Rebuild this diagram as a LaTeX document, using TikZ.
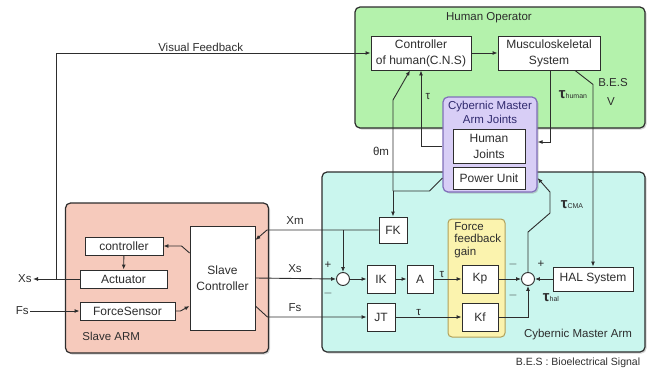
\documentclass[tikz,border=0pt]{standalone}
\usepackage{fontspec}
\setmainfont{Liberation Sans}
\usetikzlibrary{arrows.meta, positioning, shadows, calc}

\definecolor{opgreen}{RGB}{180,242,172}
\definecolor{armcyan}{RGB}{202,246,238}
\definecolor{slavepink}{RGB}{246,202,188}
\definecolor{jointlilac}{RGB}{216,206,246}
\definecolor{jointedge}{RGB}{128,110,186}
\definecolor{gainyellow}{RGB}{251,243,174}
\definecolor{gainedge}{RGB}{176,160,90}
\definecolor{ink}{RGB}{45,45,45}
\definecolor{navy}{RGB}{48,42,110}

\newcommand\boxfont{\fontsize{12}{16}\selectfont}
\newcommand\lblfont{\fontsize{11.5}{13}\selectfont}
\newcommand\bigtau{{\fontsize{15}{15}\selectfont\bfseries τ}}
\newcommand\tausub[1]{{\fontsize{7}{7}\selectfont #1}}

\begin{document}
\begin{tikzpicture}[
  x=1pt, y=-1pt, color=ink,
  >={Latex[length=5pt,width=4pt]}, line width=0.9pt,
  blk/.style  = {draw, fill=white, inner sep=1pt, align=center, font=\boxfont},
  grp/.style  = {draw=ink, rounded corners=5pt, line width=1.2pt,
                 drop shadow={shadow xshift=1.5pt, shadow yshift=-1.5pt, opacity=0.35}},
  sum/.style  = {draw, circle, fill=white, inner sep=0pt, minimum size=13pt},
  lbl/.style  = {font=\lblfont, inner sep=1pt},
  sgn/.style  = {font=\lblfont, inner sep=0pt},
]
  \useasboundingbox (0,0) rectangle (657,378);

  % groups
  \node[grp, fill=opgreen,   minimum width=290pt, minimum height=121pt] (hop)  at (500,67.5) {};
  \node[grp, fill=armcyan,   minimum width=323pt, minimum height=180pt] (cma)  at (483.5,262) {};
  \node[grp, fill=slavepink, minimum width=203pt, minimum height=150pt] (sarm) at (167,278) {};
  \node[grp, draw=jointedge, fill=jointlilac, minimum width=94pt, minimum height=95pt] (cmaj) at (490,144.5) {};
  \node[draw=gainedge, fill=gainyellow, rounded corners=4pt, line width=1pt,
        minimum width=57pt, minimum height=118pt] (ffg) at (476.5,278) {};

  \node[lbl] at (489,18)  {Human Operator};
  \node[lbl, text=navy, align=center, font=\fontsize{11.5}{14}\selectfont] at (490,112) {Cybernic Master\\Arm Joints};
  \node[lbl, anchor=north west, align=left, font=\fontsize{11.5}{12.5}\selectfont] at (453,221) {Force\\feedback\\gain};
  \node[lbl] at (578,335) {Cybernic Master Arm};
  \node[lbl, anchor=west] at (81,336) {Slave ARM};

  % human operator
  \node[blk, minimum width=100pt, minimum height=34pt] (cns) at (421,53) {Controller\\of human(C.N.S)};
  \node[blk, minimum width=102pt, minimum height=34pt] (msk) at (549,53) {Musculoskeletal\\System};

  % joints
  \node[blk, minimum width=72pt, minimum height=34pt] (hj) at (489,146) {Human\\Joints};
  \node[blk, minimum width=72pt, minimum height=22pt] (pu) at (489,178) {Power Unit};

  % slave arm
  \node[blk, minimum width=78pt, minimum height=18pt]  (ctl) at (124,246)   {controller};
  \node[blk, minimum width=87pt, minimum height=18pt]  (act) at (123.5,279) {Actuator};
  \node[blk, minimum width=95pt, minimum height=18pt]  (fsn) at (127.5,311) {ForceSensor};
  \node[blk, minimum width=65pt, minimum height=104pt] (sc)  at (222.5,278) {Slave\\Controller};

  % master arm
  \node[blk, minimum width=28pt, minimum height=26pt] (fk)  at (393,230) {FK};
  \node[sum] (s1) at (343,279) {};
  \node[blk, minimum width=28pt, minimum height=28pt] (ik)  at (381,279) {IK};
  \node[blk, minimum width=26pt, minimum height=28pt] (amp) at (420,279) {A};
  \node[blk, minimum width=36pt, minimum height=28pt] (kp)  at (480,279) {Kp};
  \node[blk, minimum width=28pt, minimum height=28pt] (jt)  at (381,317) {JT};
  \node[blk, minimum width=36pt, minimum height=28pt] (kf)  at (480,317) {Kf};
  \node[sum] (s2) at (528,279) {};
  \node[blk, minimum width=80pt, minimum height=24pt] (hal) at (593,279) {HAL System};

  \node[sgn] at (328,265) {+};
  \node[sgn] at (328,293) {$-$};
  \node[sgn] at (513,264) {$-$};
  \node[sgn] at (513,295) {$-$};
  \node[sgn] at (541,264) {+};

  % visual feedback and slave side
  \coordinate (vfx)   at (56,279);
  \coordinate (xsout) at (33,279);
  \coordinate (fsin)  at (30,311);
  \draw[->] (vfx) |- node[lbl, above, pos=0.73]{Visual Feedback} (cns.west);
  \draw[->] (act.west) -- (xsout);
  \node[lbl, left] at (xsout) {Xs};
  \draw[->] (fsin) -- (fsn.west);
  \node[lbl, left] at (fsin) {Fs};
  \draw[->] (ctl) -- (act);
  \draw[->] ([yshift=25pt]sc.west) -- ++(-8,-7) -- (ctl.east);
  \draw[->] (fsn.east) -- ++(5,0) -- ([yshift=-28pt]sc.west);

  % slave <-> master
  \draw[->] (fk.west) -- (267,230) -- ([yshift=38pt]sc.east);
  \draw[->] (s1 |- fk.west) -- (s1.north);
  \draw[->] (sc.east) -- (s1.west);
  \draw[->] ([yshift=-28pt]sc.east) -- ++(12,11) -- (jt.west);
  \node[lbl] at (295,221) {Xm};
  \node[lbl] at (295,269) {Xs};
  \node[lbl] at (295,308) {Fs};

  % master loop
  \draw[->] (s1)  -- (ik);
  \draw[->] (ik)  -- (amp);
  \draw[->] (amp) -- node[lbl, above, pos=0.3]{τ} (kp);
  \draw[->] (jt)  -- node[lbl, above, pos=0.35]{τ} (kf);
  \draw[->] (kp)  -- (s2);
  \draw[->] (hal) -- (s2);
  \draw[->] (kf.east) -| (s2.south);
  \draw[->] (s2.north) -- ++(0,-40) -- ++(22,-19) -- ++(0,-21) -- (cmaj.east |- pu.east);
  \node[lbl] at (572,205) {\bigtau\tausub{CMA}};
  \node[lbl] at (551,298) {\bigtau\tausub{hal}};

  % joints <-> operator
  \coordinate (thm) at (393,191);
  \draw (cmaj.west |- pu.east) -- ++(-13,13) -- (thm);
  \draw[->] (thm) -- (fk.north);
  \draw[->] (thm) -- ++(0,-91) -- ([xshift=-11pt]cns.south);
  \node[lbl] at (381,151) {θm};
  \draw[->] (cmaj.west |- hj.west) -| (cns.south);
  \node[lbl] at (428,97) {τ};
  \draw[->] (cns) -- (msk);
  \draw[->] ([xshift=1pt]msk.south) |- ($(cmaj.east |- hj.east)+(0,-4)$);
  \node[lbl] at (573,95) {\bigtau\tausub{human}};
  \draw[->] ([xshift=26pt]msk.south) -- ++(18,14) -- (hal.north);
  \node[lbl] at (613,83)  {B.E.S};
  \node[lbl] at (611,102) {V};

  \node[lbl, font=\fontsize{10.5}{12}\selectfont] at (578,363) {B.E.S : Bioelectrical Signal};
\end{tikzpicture}
\end{document}
